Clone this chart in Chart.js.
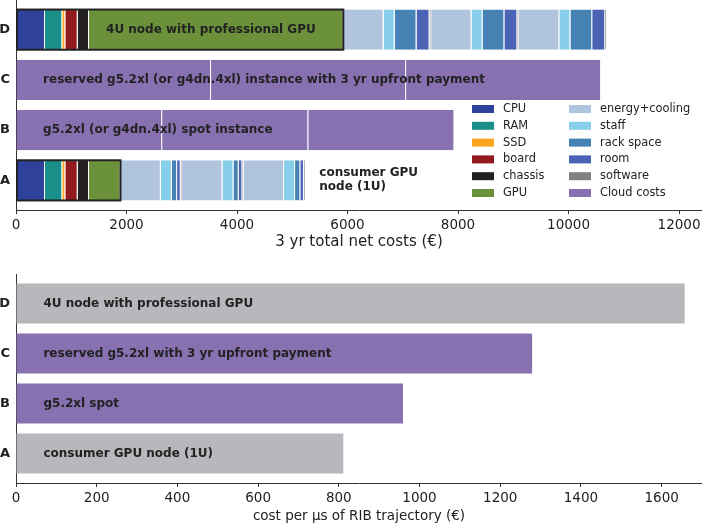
<!DOCTYPE html>
<html>
<head>
<meta charset="utf-8">
<script src="https://cdn.jsdelivr.net/npm/chart.js@4"></script>
<style>
  html, body { margin: 0; padding: 0; background: #fff; }
  #wrap { position: relative; width: 702px; height: 525px; overflow: hidden; }
  .box { position: absolute; left: 0; width: 702px; }
  #topBox { top: 0; height: 262px; }
  #bottomBox { top: 262px; height: 263px; }
</style>
</head>
<body>
<div id="wrap">
  <div class="box" id="topBox"><canvas id="costChart"></canvas></div>
  <div class="box" id="bottomBox"><canvas id="perUsChart"></canvas></div>
</div>
<script>
const categories = ['A', 'B', 'C', 'D'];

// hardware, € per node (A, B, C, D)
const cpuCost = [525, 0, 0, 525];
const ramCost = [313, 0, 0, 313];
const ssdCost = [55, 0, 0, 55];
const boardCost = [223, 0, 0, 223];
const chassisCost = [205, 0, 0, 205];
const gpuCost = [570, 0, 0, 4603];

// running costs per year (repeated for 3 years)
const energyPerYear = [730, 0, 0, 730];
const staffPerYear = [200, 0, 0, 200];
const rackPerYear = [95, 0, 0, 395];
const roomPerYear = [65, 0, 0, 235];
const softwarePerYear = [25, 0, 0, 30];

// cloud costs per year
const cloudPerYear = [0, 2645, 3530, 0];

const topTicks = [0, 2000, 4000, 6000, 8000, 10000, 12000];

// cost per µs of trajectory
const perUsCost = [811, 959, 1279, 1657];
const perUsLabels = ['consumer GPU node (1U)', 'g5.2xl spot', 'reserved g5.2xl with 3 yr upfront payment', '4U node with professional GPU'];
const bottomTicks = [0, 200, 400, 600, 800, 1000, 1200, 1400, 1600];

const colors = {
    cpu: '#2f429b', ram: '#1a8f89', ssd: '#fda51d', board: '#901a1e',
    chassis: '#231f20', gpu: '#6b913b', energy: '#b0c4de', staff: '#87ceeb',
    rack: '#4682b4', room: '#4a63b5', software: '#808080', cloud: '#8771b0'
};
const grayBar = '#b7b8bb';

const legendItems = [
    ['CPU', colors.cpu], ['RAM', colors.ram], ['SSD', colors.ssd],
    ['board', colors.board], ['chassis', colors.chassis], ['GPU', colors.gpu],
    ['energy+cooling', colors.energy], ['staff', colors.staff], ['rack space', colors.rack],
    ['room', colors.room], ['software', colors.software], ['Cloud costs', colors.cloud]
];

const FONT = 'DejaVu Sans';
const TXT = '#222';
Chart.defaults.font.family = FONT;
Chart.defaults.color = TXT;

const seg = (data, color) => ({
    data, backgroundColor: color, borderColor: '#fff',
    borderWidth: { right: 1 }, borderSkipped: false,
    categoryPercentage: 1, barPercentage: 0.8
});

const topSets = [
    seg(cpuCost, colors.cpu), seg(ramCost, colors.ram), seg(ssdCost, colors.ssd),
    seg(boardCost, colors.board), seg(chassisCost, colors.chassis), seg(gpuCost, colors.gpu)
];
for (let yr = 0; yr < 3; yr++) {
    topSets.push(seg(energyPerYear, colors.energy), seg(staffPerYear, colors.staff),
        seg(rackPerYear, colors.rack), seg(roomPerYear, colors.room), seg(softwarePerYear, colors.software));
}
for (let yr = 0; yr < 3; yr++) topSets.push(seg(cloudPerYear, colors.cloud));

const hardwareSum = categories.map((c, i) =>
    cpuCost[i] + ramCost[i] + ssdCost[i] + boardCost[i] + chassisCost[i] + gpuCost[i]);

const noPad = s => { s.paddingTop = 0; s.paddingBottom = 0; s.paddingLeft = 0; s.paddingRight = 0; };

const yScale = () => ({
    type: 'linear', min: -0.59, max: 3.59, stacked: true, offset: false,
    afterBuildTicks: s => { s.ticks = categories.map((c, i) => ({ value: i })); },
    afterFit: s => { s.width = 16; noPad(s); },
    ticks: { callback: v => categories[v], font: { size: 13, weight: 'bold' }, color: TXT, padding: 6 },
    grid: { display: false, drawTicks: false },
    border: { display: true, color: '#333', width: 1 }
});

const xScale = (max, tickList, title, titleSize, fitHeight, titlePad, stacked) => ({
    type: 'linear', min: 0, max, stacked,
    afterBuildTicks: s => { s.ticks = tickList.map(v => ({ value: v })); },
    afterFit: s => { s.height = fitHeight; noPad(s); },
    ticks: { font: { size: 13.5 }, color: TXT, padding: 3, maxRotation: 0, callback: v => String(v) },
    grid: { drawOnChartArea: false, drawTicks: true, tickLength: 4, color: '#333' },
    border: { display: true, color: '#333', width: 1 },
    title: { display: true, text: title, font: { size: titleSize }, color: TXT, padding: { top: 0, bottom: titlePad } }
});

const topDecor = {
    id: 'topDecor',
    afterDatasetsDraw(chart) {
        const { ctx, scales: { x } } = chart;
        const bars = chart.getDatasetMeta(0).data;
        ctx.save();
        // black frame around the hardware part
        ctx.strokeStyle = '#222';
        ctx.lineWidth = 2;
        hardwareSum.forEach((sum, i) => {
            if (!sum) return;
            const el = bars[i];
            const x0 = x.getPixelForValue(0), x1 = x.getPixelForValue(sum);
            ctx.strokeRect(x0 + 1, el.y - el.height / 2, x1 - x0 - 1, el.height);
        });
        // bar texts
        ctx.fillStyle = TXT;
        ctx.font = 'bold 12px "' + FONT + '"';
        ctx.textBaseline = 'middle';
        ctx.textAlign = 'left';
        const texts = [
            [5490, ['consumer GPU', 'node (1U)']],
            [490, ['g5.2xl (or g4dn.4xl) spot instance']],
            [490, ['reserved g5.2xl (or g4dn.4xl) instance with 3 yr upfront payment']],
            [1630, ['4U node with professional GPU']]
        ];
        texts.forEach(([at, lines], i) => {
            const cy = bars[i].y;
            lines.forEach((t, k) => {
                ctx.fillText(t, x.getPixelForValue(at), cy + (k - (lines.length - 1) / 2) * 14);
            });
        });
        // legend, two columns
        ctx.font = '11.4px "' + FONT + '"';
        const area = chart.chartArea;
        legendItems.forEach(([name, col], k) => {
            const colIdx = Math.floor(k / 6), row = k % 6;
            const lx = area.right - 230 + colIdx * 97;
            const ly = 109 + row * 16.8;
            ctx.fillStyle = col;
            ctx.fillRect(lx, ly - 4, 22, 8);
            ctx.fillStyle = TXT;
            ctx.fillText(name, lx + 31, ly);
        });
        ctx.restore();
    }
};

new Chart(document.getElementById('costChart'), {
    type: 'bar',
    data: { labels: categories.map((c, i) => i), datasets: topSets },
    options: {
        indexAxis: 'y',
        responsive: true,
        maintainAspectRatio: false,
        animation: false,
        layout: { padding: 0 },
        plugins: { legend: { display: false }, tooltip: { enabled: false } },
        scales: {
            x: xScale(12416, topTicks, '3 yr total net costs (€)', 15, 52, 11, true),
            y: yScale()
        }
    },
    plugins: [topDecor]
});

const bottomDecor = {
    id: 'bottomDecor',
    afterDatasetsDraw(chart) {
        const { ctx, scales: { x } } = chart;
        const bars = chart.getDatasetMeta(0).data;
        ctx.save();
        ctx.fillStyle = TXT;
        ctx.font = 'bold 12px "' + FONT + '"';
        ctx.textBaseline = 'middle';
        ctx.textAlign = 'left';
        perUsLabels.forEach((t, i) => ctx.fillText(t, x.getPixelForValue(68), bars[i].y));
        ctx.restore();
    }
};

new Chart(document.getElementById('perUsChart'), {
    type: 'bar',
    data: {
        labels: categories.map((c, i) => i),
        datasets: [{
            data: perUsCost,
            backgroundColor: [grayBar, colors.cloud, colors.cloud, grayBar],
            borderWidth: 0,
            categoryPercentage: 1, barPercentage: 0.8
        }]
    },
    options: {
        indexAxis: 'y',
        responsive: true,
        maintainAspectRatio: false,
        animation: false,
        layout: { padding: { top: 12 } },
        plugins: { legend: { display: false }, tooltip: { enabled: false } },
        scales: {
            x: xScale(1700, bottomTicks, 'cost per µs of RIB trajectory (€)', 13.5, 42, 0, false),
            y: yScale()
        }
    },
    plugins: [bottomDecor]
});
</script>
</body>
</html>
